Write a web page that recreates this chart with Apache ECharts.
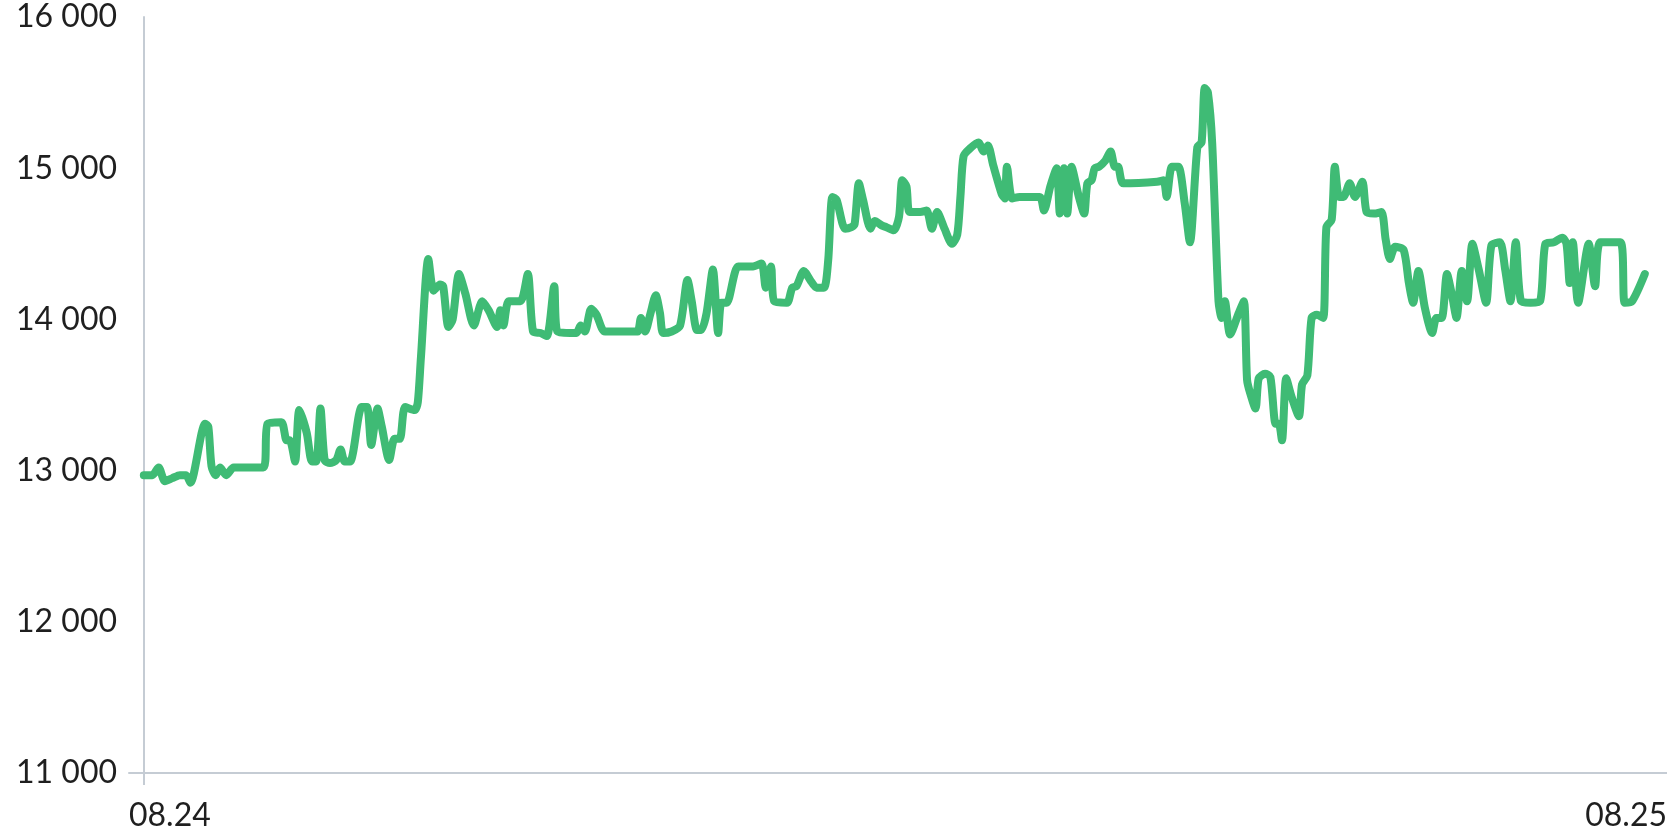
<!DOCTYPE html>
<html>
<head>
<meta charset="utf-8">
<script src="https://cdn.jsdelivr.net/npm/echarts@6/dist/echarts.min.js"></script>
<style>
    html, body { margin: 0; padding: 0; background: #fff; }
    #chart { width: 1667px; height: 833px; }
</style>
</head>
<body>
<div id="chart"></div>
<script>
    // minutes after 08.24 00:00
    const times = [
        0, 8, 14, 20, 27, 34, 40, 44, 58, 61, 64, 68, 72, 78, 85, 113, 117, 130, 135, 138,
        143, 147, 154, 159, 163, 167, 171, 176, 182, 186, 190, 195, 206, 211, 215, 221, 225, 232, 237, 242,
        247, 256, 259, 262, 269, 274, 280, 283, 288, 292, 298, 304, 312, 320, 326, 334, 337, 340, 345, 356,
        363, 368, 375, 381, 388, 391, 403, 409, 413, 417, 423, 428, 436, 463, 467, 470, 474, 479, 484, 488,
        491, 499, 507, 514, 518, 523, 527, 532, 538, 543, 546, 551, 562, 576, 584, 588, 593, 596, 608, 613,
        617, 624, 630, 636, 643, 647, 651, 655, 663, 669, 672, 676, 680, 687, 691, 698, 702, 709, 714, 717,
        721, 724, 734, 740, 745, 750, 757, 764, 769, 772, 775, 781, 789, 794, 798, 803, 811, 814, 816, 821,
        828, 847, 851, 857, 863, 866, 870, 873, 877, 884, 889, 892, 896, 899, 903, 909, 914, 918, 921, 926,
        958, 964, 967, 972, 978, 984, 989, 996, 1000, 1003, 1006, 1010, 1016, 1019, 1022, 1027, 1035, 1040, 1043, 1046,
        1051, 1054, 1060, 1065, 1070, 1073, 1076, 1080, 1085, 1092, 1095, 1100, 1104, 1109, 1115, 1118, 1123, 1126, 1130, 1134,
        1140, 1145, 1152, 1156, 1163, 1170, 1174, 1178, 1183, 1191, 1196, 1200, 1205, 1211, 1218, 1222, 1227, 1232, 1237, 1241,
        1246, 1251, 1256, 1262, 1269, 1274, 1282, 1287, 1292, 1297, 1302, 1311, 1320, 1325, 1333, 1341, 1345, 1348, 1351, 1356,
        1366, 1372, 1377, 1396, 1400, 1407, 1419
    ];
    const values = [
        12970, 12970, 13020, 12930, 12950, 12970, 12970, 12920, 13310, 13290, 13030, 12970, 13020, 12970, 13020, 13020, 13310, 13320, 13200, 13200,
        13060, 13400, 13250, 13060, 13060, 13410, 13070, 13050, 13070, 13140, 13060, 13060, 13420, 13420, 13170, 13410, 13290, 13070, 13210, 13210,
        13420, 13400, 13450, 13750, 14400, 14190, 14230, 14220, 13950, 14000, 14300, 14170, 13960, 14120, 14060, 13950, 14060, 13960, 14120, 14120,
        14300, 13920, 13910, 13890, 14220, 13920, 13910, 13910, 13960, 13920, 14070, 14030, 13920, 13920, 13920, 14010, 13920, 14040, 14160, 14040,
        13910, 13920, 13960, 14260, 14120, 13930, 13930, 14040, 14330, 13910, 14110, 14110, 14350, 14350, 14370, 14210, 14350, 14120, 14110, 14210,
        14220, 14320, 14260, 14210, 14210, 14390, 14810, 14790, 14600, 14610, 14630, 14900, 14790, 14600, 14650, 14620, 14610, 14590, 14680, 14920,
        14880, 14710, 14710, 14720, 14600, 14710, 14600, 14500, 14560, 14810, 15080, 15130, 15170, 15110, 15150, 15020, 14830, 14800, 15010, 14800,
        14810, 14810, 14720, 14880, 15000, 14700, 15000, 14700, 15010, 14810, 14700, 14900, 14920, 15000, 15010, 15050, 15110, 15010, 15010, 14900,
        14910, 14920, 14810, 15010, 15010, 14770, 14510, 15140, 15170, 15530, 15500, 15170, 14120, 14010, 14120, 13900, 14040, 14120, 13600, 13510,
        13410, 13610, 13640, 13620, 13310, 13310, 13200, 13610, 13490, 13360, 13570, 13630, 14010, 14030, 14010, 14610, 14660, 15010, 14810, 14810,
        14900, 14810, 14910, 14710, 14700, 14710, 14530, 14400, 14480, 14460, 14240, 14110, 14320, 14080, 13910, 14010, 14010, 14300, 14150, 14010,
        14320, 14120, 14500, 14330, 14110, 14490, 14510, 14330, 14120, 14510, 14120, 14110, 14120, 14500, 14510, 14540, 14500, 14240, 14510, 14110,
        14500, 14220, 14510, 14510, 14110, 14120, 14300
    ];
    const dayLabels = ['08.24', '08.25'];
    const xMin = -14;
    const xMax = 1440;

    const myChart = echarts.init(document.getElementById('chart'));
    const seriesData = times.map((t, i) => [t, values[i]]);

    myChart.setOption({
        animation: false,
        grid: {
            top: 17,
            left: 129,
            right: 0,
            bottom: 60,
            outerBoundsMode: 'none'
        },
        xAxis: {
            type: 'value',
            min: xMin,
            max: xMax,
            axisLine: {
                onZero: false,
                lineStyle: { color: '#c5ccd4', width: 2 }
            },
            axisTick: {
                show: true,
                customValues: [0],
                length: 12,
                lineStyle: { color: '#c5ccd4', width: 2 }
            },
            axisLabel: {
                customValues: [xMin, xMax],
                formatter: v => (v <= 0 ? dayLabels[0] : dayLabels[1]),
                alignMinLabel: 'left',
                alignMaxLabel: 'right',
                margin: 27,
                color: '#1f1f1f',
                fontFamily: 'Lato',
                fontSize: 32
            },
            splitLine: { show: false }
        },
        yAxis: {
            type: 'value',
            min: 11000,
            max: 16000,
            interval: 1000,
            axisLine: {
                show: true,
                onZero: true,
                lineStyle: { color: '#c5ccd4', width: 2 }
            },
            axisTick: { show: false },
            axisLabel: {
                formatter: v => String(v).replace(/\B(?=(\d{3})+(?!\d))/g, ' '),
                margin: 12,
                color: '#1f1f1f',
                fontFamily: 'Lato',
                fontSize: 32
            },
            splitLine: { show: false }
        },
        series: [{
            type: 'line',
            data: seriesData,
            showSymbol: false,
            smooth: 0.25,
            lineStyle: { color: '#3fbb75', width: 8, join: 'round', cap: 'round' }
        }]
    });
</script>
</body>
</html>
